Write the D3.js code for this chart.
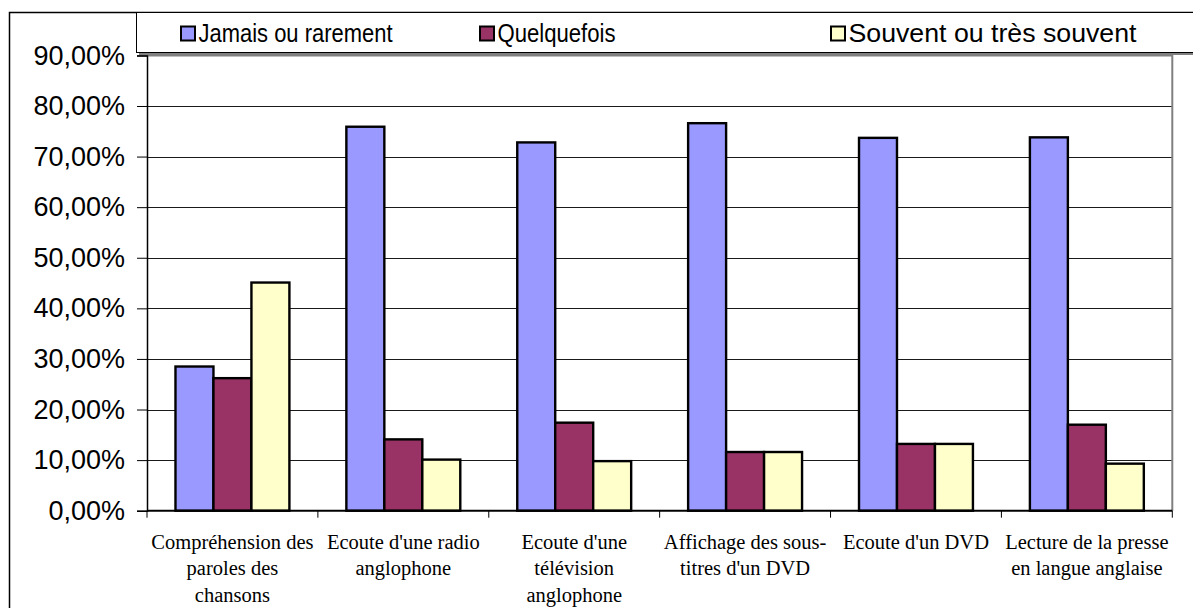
<!DOCTYPE html>
<html>
<head>
<meta charset="utf-8">
<script src="https://cdn.jsdelivr.net/npm/d3@7"></script>
<style>
  html, body { margin: 0; padding: 0; background: #fff; overflow: hidden; }
</style>
</head>
<body>
<div id="chart"></div>
<script>
// data
const categories = [
  "Compréhension des paroles des chansons",
  "Ecoute d'une radio anglophone",
  "Ecoute d'une télévision anglophone",
  "Affichage des sous-titres d'un DVD",
  "Ecoute d'un DVD",
  "Lecture de la presse en langue anglaise"
];
// how the category labels wrap under the axis
const categoryLines = [
  ["Compréhension des", "paroles des", "chansons"],
  ["Ecoute d'une radio", "anglophone"],
  ["Ecoute d'une", "télévision", "anglophone"],
  ["Affichage des sous-", "titres d'un DVD"],
  ["Ecoute d'un DVD"],
  ["Lecture de la presse", "en langue anglaise"]
];
const seriesNames = ["Jamais ou rarement", "Quelquefois", "Souvent ou très souvent"];
const jamais = [28.5, 75.9, 72.8, 76.6, 73.7, 73.8];
const quelquefois = [26.2, 14.1, 17.4, 11.6, 13.2, 17.0];
const souvent = [45.1, 10.1, 9.8, 11.6, 13.2, 9.3];
const yTicks = [0, 10, 20, 30, 40, 50, 60, 70, 80, 90];

const colors = ["#9999ff", "#993366", "#ffffcc"];
const seriesValues = [jamais, quelquefois, souvent];

const W = 1193, H = 608;
const plot = {left: 147, right: 1172.3, top: 55.4, bottom: 510.7};

const svg = d3.select("#chart").append("svg")
    .attr("width", W)
    .attr("height", H);

// outer chart frame (runs off the right/bottom of the picture)
svg.append("rect")
    .attr("x", 9.5).attr("y", 12.5)
    .attr("width", W + 20).attr("height", H + 20)
    .attr("fill", "#fff")
    .attr("stroke", "#000")
    .attr("stroke-width", 1.5);

const x0 = d3.scaleBand()
    .domain(categories)
    .range([plot.left, plot.right])
    .paddingInner(1 / 3)
    .paddingOuter(1 / 6);

const x1 = d3.scaleBand()
    .domain(seriesNames)
    .range([0, x0.bandwidth()]);

const y = d3.scaleLinear()
    .domain([0, 90])
    .range([plot.bottom, plot.top]);

// gridlines
svg.append("g")
    .selectAll("line")
    .data(yTicks.filter(d => d > 0 && d < 90))
    .enter()
    .append("line")
    .attr("x1", plot.left).attr("x2", plot.right)
    .attr("y1", d => Math.round(y(d)) + 0.5)
    .attr("y2", d => Math.round(y(d)) + 0.5)
    .attr("stroke", "#1a1a1a")
    .attr("stroke-width", 1);

// top and right border of plot area in gray
svg.append("path")
    .attr("d", `M${plot.left},${plot.top}H${plot.right}V${plot.bottom}`)
    .attr("fill", "none")
    .attr("stroke", "#808080")
    .attr("stroke-width", 2);

// bars
const rows = categories.map((c, i) => ({
    cat: c,
    vals: seriesNames.map((s, j) => ({series: s, value: seriesValues[j][i], color: colors[j]}))
}));

svg.append("g")
    .selectAll("g")
    .data(rows)
    .enter()
    .append("g")
    .attr("transform", d => "translate(" + x0(d.cat) + ",0)")
    .selectAll("rect")
    .data(d => d.vals)
    .enter()
    .append("rect")
    .attr("x", d => x1(d.series))
    .attr("y", d => y(d.value))
    .attr("width", x1.bandwidth())
    .attr("height", d => y(0) - y(d.value))
    .attr("fill", d => d.color)
    .attr("stroke", "#000")
    .attr("stroke-width", 2.4);

// y axis
const yAxis = d3.axisLeft(y)
    .tickValues(yTicks)
    .tickSize(10)
    .tickPadding(12)
    .tickFormat(d => d.toFixed(2).replace(".", ",") + "%");

const gy = svg.append("g")
    .attr("transform", "translate(" + plot.left + ",0)")
    .call(yAxis);
gy.select(".domain").attr("stroke", "#000").attr("stroke-width", 1.5);
gy.selectAll(".tick line").attr("stroke", "#000").attr("stroke-width", 1);
gy.selectAll(".tick text")
    .attr("font-family", "Liberation Sans, Arial, sans-serif")
    .attr("font-size", 27)
    .attr("fill", "#000");

// x axis line and category boundary ticks
svg.append("line")
    .attr("x1", plot.left).attr("x2", plot.right)
    .attr("y1", plot.bottom).attr("y2", plot.bottom)
    .attr("stroke", "#000").attr("stroke-width", 2);

const boundaries = d3.range(categories.length + 1)
    .map(i => plot.left + i * x0.step());
svg.append("g")
    .selectAll("line")
    .data(boundaries)
    .enter()
    .append("line")
    .attr("x1", d => d).attr("x2", d => d)
    .attr("y1", plot.bottom).attr("y2", plot.bottom + 7)
    .attr("stroke", "#000").attr("stroke-width", 1);

// category labels
const labels = svg.append("g")
    .selectAll("text")
    .data(categories)
    .enter()
    .append("text")
    .attr("text-anchor", "middle")
    .attr("font-family", "Liberation Serif, Times New Roman, serif")
    .attr("font-size", 20.5)
    .attr("fill", "#000")
    .attr("transform", d => "translate(" + (x0(d) + x0.bandwidth() / 2) + ",548.5)");

labels.selectAll("tspan")
    .data((d, i) => categoryLines[i])
    .enter()
    .append("tspan")
    .attr("x", 0)
    .attr("dy", (d, i) => i === 0 ? 0 : 26.5)
    .text(d => d);

// legend
const legend = svg.append("g");
legend.append("rect")
    .attr("x", 139).attr("y", 15)
    .attr("width", 1060).attr("height", 40)
    .attr("fill", "#808080");
legend.append("rect")
    .attr("x", 136.5).attr("y", 12.5)
    .attr("width", 1060).attr("height", 40)
    .attr("fill", "#fff")
    .attr("stroke", "#000")
    .attr("stroke-width", 1);

const legendX = [180, 479, 830];
const legendW = [194, 118, 288];
const items = legend.selectAll("g.item")
    .data(seriesNames)
    .enter()
    .append("g")
    .attr("class", "item")
    .attr("transform", (d, i) => "translate(" + legendX[i] + ",0)");

items.append("rect")
    .attr("x", 1).attr("y", 26.5)
    .attr("width", 14).attr("height", 14)
    .attr("fill", (d, i) => colors[i])
    .attr("stroke", "#000")
    .attr("stroke-width", 2);

items.append("text")
    .attr("x", 18.5)
    .attr("y", 41.5)
    .attr("font-family", "Liberation Sans, Arial, sans-serif")
    .attr("font-size", 25)
    .attr("textLength", (d, i) => legendW[i])
    .attr("lengthAdjust", "spacingAndGlyphs")
    .attr("fill", "#000")
    .text(d => d);
</script>
</body>
</html>
